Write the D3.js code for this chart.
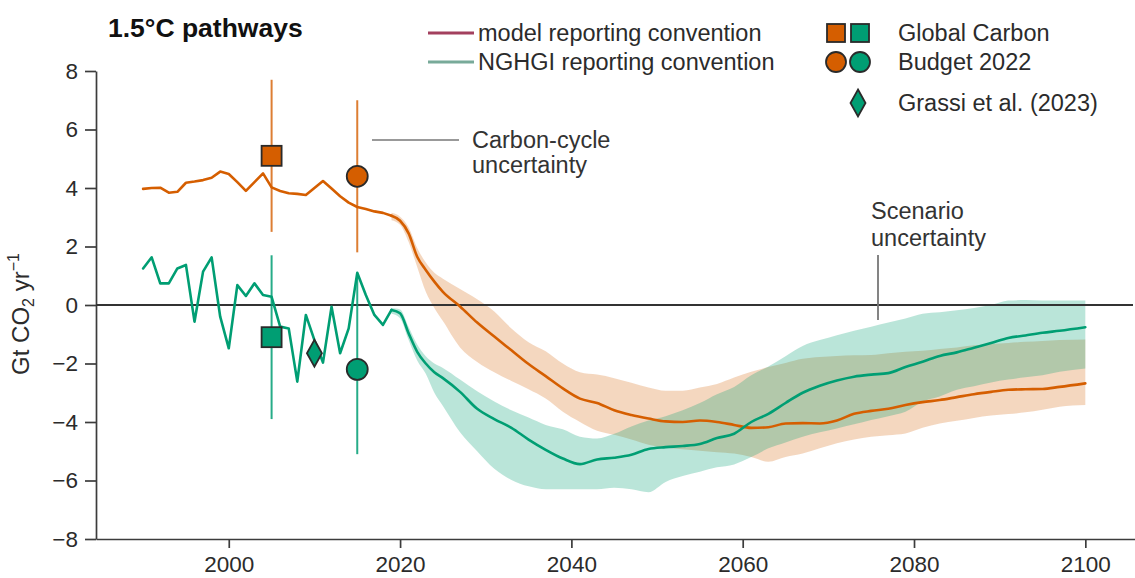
<!DOCTYPE html>
<html>
<head>
<meta charset="utf-8">
<script src="https://cdn.jsdelivr.net/npm/d3@7"></script>
<style>
  html, body { margin: 0; padding: 0; background: #fff; }
  svg { display: block; font-family: "Liberation Sans", Arial, Helvetica, sans-serif; }
</style>
</head>
<body>
<svg id="chart" width="1135" height="578"></svg>
<script>
// ---- Historical land-use CO2 flux, 1990–2018 (Gt CO2 / yr) ----
const histYears = d3.range(1990, 2019);
const modelHist = [3.97, 4.0, 4.01, 3.84, 3.87, 4.18, 4.22, 4.27, 4.35, 4.56,
                   4.48, 4.2, 3.9, 4.2, 4.5, 4.02, 3.9, 3.82, 3.8, 3.76,
                   4.0, 4.24, 3.98, 3.72, 3.5, 3.35, 3.28, 3.2, 3.15];
const nghgiHist = [1.25, 1.63, 0.74, 0.74, 1.25, 1.37, -0.57, 1.14, 1.63, -0.40,
                   -1.48, 0.68, 0.31, 0.74, 0.34, 0.28, -0.74, -0.80, -2.62, -0.34,
                   -1.20, -1.97, -0.06, -1.65, -0.80, 1.10, 0.34, -0.34, -0.68];

// ---- 1.5°C pathways: median and uncertainty range ----
const scenYears = [2019, 2020, 2021, 2022, 2023, 2024, 2025, 2027, 2029, 2031,
                   2033, 2035, 2037, 2039, 2041, 2043, 2045, 2047, 2049, 2051,
                   2053, 2055, 2057, 2059, 2061, 2063, 2065, 2067, 2069, 2071,
                   2073, 2075, 2077, 2079, 2081, 2083, 2085, 2087, 2089, 2091,
                   2093, 2095, 2097, 2100];
const modelMid = [3.05, 2.88, 2.45, 1.65, 1.2, 0.8, 0.45, -0.05, -0.6, -1.08,
                  -1.55, -2.02, -2.43, -2.85, -3.2, -3.35, -3.6, -3.76, -3.88, -3.98,
                  -4.0, -3.95, -4.0, -4.1, -4.2, -4.18, -4.05, -4.04, -4.05, -3.95,
                  -3.72, -3.62, -3.55, -3.42, -3.32, -3.25, -3.15, -3.05, -2.97, -2.9,
                  -2.88, -2.87, -2.8, -2.68];
const modelHigh = [3.15, 3.02, 2.65, 1.95, 1.45, 1.1, 0.9, 0.55, 0.2, -0.22,
                   -0.8, -1.27, -1.58, -2.0, -2.3, -2.38, -2.5, -2.66, -2.82, -2.93,
                   -2.93, -2.82, -2.7, -2.48, -2.28, -2.12, -1.98, -1.84, -1.78, -1.74,
                   -1.72, -1.71, -1.65, -1.6, -1.56, -1.5, -1.45, -1.38, -1.33, -1.3,
                   -1.26, -1.23, -1.2, -1.18];
const modelLow = [2.9, 2.74, 2.15, 1.3, 0.45, -0.1, -0.55, -1.45, -1.95, -2.3,
                  -2.6, -2.88, -3.2, -3.65, -4.0, -4.3, -4.44, -4.6, -4.78, -4.88,
                  -4.93, -4.98, -5.03, -5.08, -5.2, -5.36, -5.2, -5.08, -4.9, -4.73,
                  -4.6, -4.5, -4.45, -4.39, -4.2, -4.05, -3.96, -3.86, -3.78, -3.73,
                  -3.67, -3.58, -3.48, -3.42];
const nghgiMid = [-0.17, -0.28, -0.97, -1.6, -2.0, -2.3, -2.5, -2.97, -3.55, -3.9,
                  -4.2, -4.6, -4.95, -5.25, -5.44, -5.28, -5.22, -5.12, -4.92, -4.86,
                  -4.82, -4.75, -4.55, -4.4, -4.0, -3.72, -3.35, -3.0, -2.76, -2.58,
                  -2.45, -2.38, -2.33, -2.12, -1.94, -1.74, -1.62, -1.46, -1.3, -1.13,
                  -1.04, -0.95, -0.88, -0.76];
const nghgiHigh = [-0.1, -0.15, -0.75, -1.35, -1.75, -2.0, -2.15, -2.55, -2.95, -3.3,
                   -3.6, -3.85, -4.1, -4.25, -4.5, -4.56, -4.4, -4.15, -3.95, -3.8,
                   -3.6, -3.35, -3.05, -2.8, -2.4, -2.1, -1.75, -1.4, -1.2, -1.03,
                   -0.88, -0.74, -0.6, -0.46, -0.3, -0.25, -0.18, -0.1, 0.0, 0.15,
                   0.17, 0.15, 0.15, 0.15];
const nghgiLow = [-0.3, -0.45, -1.2, -1.9, -2.35, -3.0, -3.45, -4.35, -5.0, -5.6,
                  -5.98, -6.2, -6.3, -6.3, -6.3, -6.3, -6.25, -6.3, -6.4, -6.05,
                  -5.85, -5.7, -5.55, -5.45, -5.2, -4.9, -4.7, -4.5, -4.35, -4.22,
                  -4.08, -3.93, -3.8, -3.65, -3.3, -3.13, -2.9, -2.78, -2.65, -2.55,
                  -2.47, -2.4, -2.28, -2.17];

// ---- Global Carbon Budget 2022 estimates with carbon-cycle uncertainty ----
const gcbYears = [2005, 2015];
const gcbShapes = ["square", "circle"];
const gcbModel = [5.1, 4.4];
const gcbModelLow = [2.5, 1.8];
const gcbModelHigh = [7.7, 7.0];
const gcbNghgi = [-1.1, -2.2];
const gcbNghgiLow = [-3.9, -5.1];
const gcbNghgiHigh = [1.7, 1.0];

// ---- Grassi et al. (2023) ----
const grassiYears = [2010];
const grassiValues = [-1.65];

// ---- Axis ticks ----
const xTicks = [2000, 2020, 2040, 2060, 2080, 2100];
const yTicks = [-8, -6, -4, -2, 0, 2, 4, 6, 8];

const ORANGE = "#d55e00";
const TEAL = "#009e73";
const INK = "#2b2b2b";
const TEXT_SIZE = 23.5;

const svg = d3.select("#chart");
const x = d3.scaleLinear().domain([1984.5, 2105.8]).range([96, 1135]);
const y = d3.scaleLinear().domain([-8, 8]).range([539, 71]);

// ---- Axes ----
const yAxis = svg.append("g")
  .attr("transform", `translate(${x.range()[0]},0)`)
  .call(d3.axisLeft(y).tickValues(yTicks).tickSize(11).tickSizeOuter(0).tickPadding(7));
const xAxis = svg.append("g")
  .attr("transform", `translate(0,${y(-8)})`)
  .call(d3.axisBottom(x).tickValues(xTicks).tickFormat(d3.format("d"))
        .tickSize(9).tickSizeOuter(0).tickPadding(8));
[yAxis, xAxis].forEach(g => {
  g.selectAll("path.domain, .tick line").attr("stroke", "#3c3c3c").attr("stroke-width", 1.7);
  g.selectAll("text").attr("fill", INK).attr("font-size", 22.5).attr("font-family", "Liberation Sans, Arial, sans-serif");
});

svg.append("text")
  .attr("transform", `translate(29,${y(0) + 9}) rotate(-90)`)
  .attr("text-anchor", "middle")
  .attr("font-size", 24)
  .attr("fill", INK)
  .call(t => {
    t.append("tspan").text("Gt CO");
    t.append("tspan").attr("font-size", 16).attr("dy", 5).text("2");
    t.append("tspan").attr("dy", -5).text(" yr");
    t.append("tspan").attr("font-size", 16).attr("dy", -10).text("\u22121");
  });

// ---- Uncertainty bands ----
const modelRows = scenYears.map((yr, i) => ({ yr, lo: modelLow[i], hi: modelHigh[i] }));
const nghgiRows = scenYears.map((yr, i) => ({ yr, lo: nghgiLow[i], hi: nghgiHigh[i] }));
const band = d3.area()
  .x(d => x(d.yr))
  .y0(d => y(d.lo))
  .y1(d => y(d.hi))
  .curve(d3.curveMonotoneX);

svg.append("path").datum(modelRows).attr("d", band).attr("fill", ORANGE).attr("fill-opacity", 0.25);
svg.append("path").datum(nghgiRows).attr("d", band).attr("fill", TEAL).attr("fill-opacity", 0.27);

// ---- Zero line ----
svg.append("line")
  .attr("x1", x.range()[0]).attr("x2", 1133)
  .attr("y1", y(0)).attr("y2", y(0))
  .attr("stroke", "#333").attr("stroke-width", 2.2);

// ---- Historical (jagged, linear) and pathway median (smooth) lines ----
const histLine = d3.line().x(d => x(d.yr)).y(d => y(d.v)).curve(d3.curveLinear);
const scenLine = d3.line().x(d => x(d.yr)).y(d => y(d.v)).curve(d3.curveMonotoneX);

function drawSeries(hist, mid, color) {
  const h = histYears.map((yr, i) => ({ yr, v: hist[i] }));
  const s = scenYears.map((yr, i) => ({ yr, v: mid[i] }));
  h.push(s[0]);
  [[h, histLine], [s, scenLine]].forEach(([data, gen]) => {
    svg.append("path").datum(data).attr("d", gen)
      .attr("fill", "none").attr("stroke", color).attr("stroke-width", 2.6)
      .attr("stroke-linejoin", "round").attr("stroke-linecap", "round");
  });
}
drawSeries(modelHist, modelMid, ORANGE);
drawSeries(nghgiHist, nghgiMid, TEAL);

// ---- Error bars ----
const bars = svg.append("g");
gcbYears.forEach((yr, i) => {
  bars.append("line").attr("x1", x(yr)).attr("x2", x(yr))
    .attr("y1", y(gcbModelLow[i])).attr("y2", y(gcbModelHigh[i]))
    .attr("stroke", ORANGE).attr("stroke-opacity", 0.8).attr("stroke-width", 2);
  bars.append("line").attr("x1", x(yr)).attr("x2", x(yr))
    .attr("y1", y(gcbNghgiLow[i])).attr("y2", y(gcbNghgiHigh[i]))
    .attr("stroke", TEAL).attr("stroke-opacity", 0.85).attr("stroke-width", 2);
});

// ---- Markers ----
function marker(g, shape, cx, cy, fill, size) {
  const s = size || 20;
  if (shape === "square") {
    g.append("rect").attr("x", cx - s / 2).attr("y", cy - s / 2).attr("width", s).attr("height", s)
      .attr("fill", fill).attr("stroke", "#2a2a2a").attr("stroke-width", 1.8);
  } else if (shape === "circle") {
    g.append("circle").attr("cx", cx).attr("cy", cy).attr("r", s / 2 + 0.5)
      .attr("fill", fill).attr("stroke", "#2a2a2a").attr("stroke-width", 1.8);
  } else {
    g.append("path")
      .attr("d", `M${cx},${cy - 13.5}L${cx + 7.5},${cy}L${cx},${cy + 13.5}L${cx - 7.5},${cy}Z`)
      .attr("fill", fill).attr("stroke", "#2a2a2a").attr("stroke-width", 1.8);
  }
}
const marks = svg.append("g");
gcbYears.forEach((yr, i) => {
  marker(marks, gcbShapes[i], x(yr), y(gcbModel[i]), ORANGE);
  marker(marks, gcbShapes[i], x(yr), y(gcbNghgi[i]), TEAL);
});
grassiYears.forEach((yr, i) => marker(marks, "diamond", x(yr), y(grassiValues[i]), TEAL));

// ---- Title ----
svg.append("text").attr("x", 108).attr("y", 37)
  .attr("font-size", 26.5).attr("font-weight", "bold").attr("fill", "#111")
  .text("1.5°C pathways");

// ---- Legend ----
const legend = svg.append("g").attr("font-size", TEXT_SIZE).attr("fill", INK);
const legendLines = [
  { label: "model reporting convention", color: "#a3405e", cy: 33 },
  { label: "NGHGI reporting convention", color: "#78aa99", cy: 62 }
];
legendLines.forEach(d => {
  legend.append("line").attr("x1", 428).attr("x2", 474).attr("y1", d.cy).attr("y2", d.cy)
    .attr("stroke", d.color).attr("stroke-width", 3);
  legend.append("text").attr("x", 478).attr("y", d.cy).attr("dy", "0.36em").text(d.label);
});
marker(legend, "square", 836, 33, ORANGE, 18);
marker(legend, "square", 860, 33, TEAL, 18);
marker(legend, "circle", 836, 62, ORANGE, 19);
marker(legend, "circle", 860, 62, TEAL, 19);
marker(legend, "diamond", 858, 103, TEAL);
legend.append("text").attr("x", 898).attr("y", 33).attr("dy", "0.36em").text("Global Carbon");
legend.append("text").attr("x", 898).attr("y", 62).attr("dy", "0.36em").text("Budget 2022");
legend.append("text").attr("x", 898).attr("y", 103).attr("dy", "0.36em").text("Grassi et al. (2023)");

// ---- Annotations ----
const notes = svg.append("g").attr("font-size", TEXT_SIZE).attr("fill", "#333");
notes.append("line").attr("x1", 372).attr("x2", 459).attr("y1", 140).attr("y2", 140)
  .attr("stroke", "#999").attr("stroke-width", 2);
notes.append("text").attr("x", 472).attr("y", 140).attr("dy", "0.36em").text("Carbon-cycle");
notes.append("text").attr("x", 472).attr("y", 165).attr("dy", "0.36em").text("uncertainty");
notes.append("line").attr("x1", 878).attr("x2", 878).attr("y1", 255).attr("y2", 320)
  .attr("stroke", "#777").attr("stroke-width", 1.8);
notes.append("text").attr("x", 871).attr("y", 211).attr("dy", "0.36em").text("Scenario");
notes.append("text").attr("x", 871).attr("y", 238).attr("dy", "0.36em").text("uncertainty");
</script>
</body>
</html>
